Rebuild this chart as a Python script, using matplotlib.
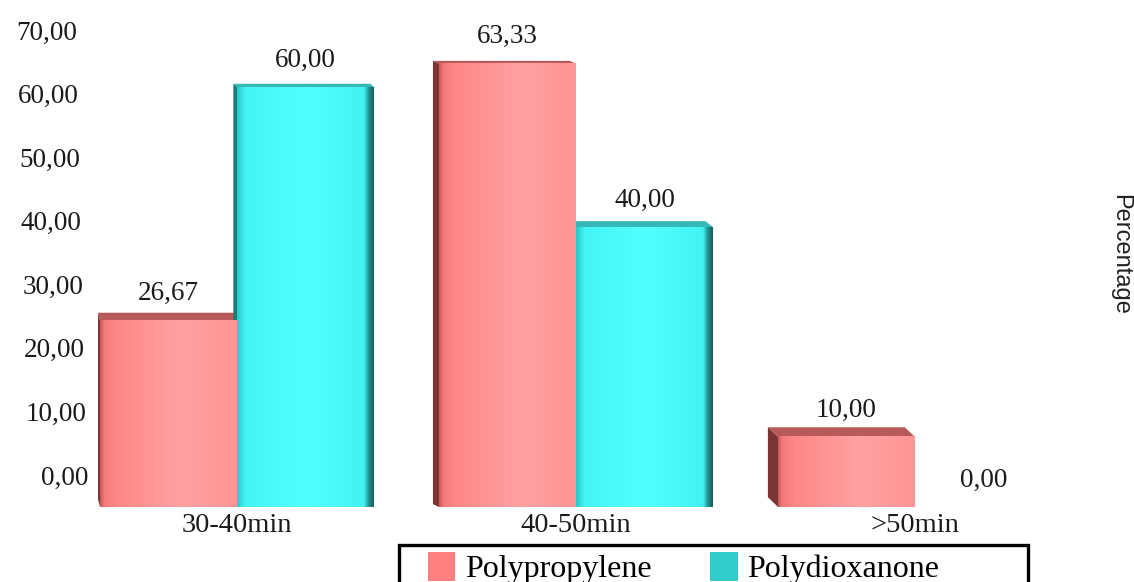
import numpy as np
import matplotlib
matplotlib.use("Agg")
import matplotlib.pyplot as plt
from matplotlib.colors import LinearSegmentedColormap
from matplotlib.patches import Patch, Polygon, Rectangle
from matplotlib.transforms import ScaledTranslation

categories = ["30-40min", "40-50min", ">50min"]
polypropylene = [26.67, 63.33, 10.00]
polydioxanone = [60.00, 40.00, 0.00]
series_names = ["Polypropylene", "Polydioxanone"]
y_ticks = [0, 10, 20, 30, 40, 50, 60, 70]

SERIF = ["Liberation Serif", "DejaVu Serif"]
SANS = ["Liberation Sans", "DejaVu Sans"]

def fmt(v):
    return f"{v:.2f}".replace(".", ",")

fig = plt.figure(figsize=(11.34, 5.82), dpi=100)

# bars live on this axes, nothing else of it is shown
ax = fig.add_axes([67.5 / 1134, 75 / 582, 1017 / 1134, 490 / 582])
ax.set_xlim(-0.5, 2.5)
ax.set_ylim(0, 70)
for s in ax.spines.values():
    s.set_visible(False)
ax.set_yticks([])

x = np.arange(len(categories))
w = 0.404
bars_pp = ax.bar(x - w / 2, polypropylene, w, color="none", zorder=3)
bars_pd = ax.bar(x + w / 2, polydioxanone, w, color="none", zorder=3)

pink_cmap = LinearSegmentedColormap.from_list(
    "pink_face", [(0, "#C85858"), (0.03, "#F47A7A"), (0.12, "#FF8787"),
                  (0.6, "#FFA2A2"), (1, "#FF9494")])
cyan_cmap = LinearSegmentedColormap.from_list(
    "cyan_face", [(0, "#2BC8C8"), (0.06, "#44F4F4"), (0.5, "#52FFFF"),
                  (0.93, "#42F2F2"), (0.965, "#1F9090"), (1, "#166060")])
grad = np.linspace(0, 1, 256).reshape(1, -1)

def px_to_data(dx, dy):
    inv = ax.transData.inverted()
    a = inv.transform((0, 0))
    b = inv.transform((dx, dy))
    return b - a

def draw_bar(b, cmap, top_col, side_col):
    x0, wb, h = b.get_x(), b.get_width(), b.get_height()
    if h <= 0:
        return
    # top face gets deeper the lower the bar is, and leans left further right
    depth = 0.13 * (85 - h)
    cx_px = ax.transData.transform((x0 + wb / 2, 0))[0]
    ddx, ddy = px_to_data(-0.012 * cx_px, depth)
    top = Polygon([(x0, h), (x0 + wb, h), (x0 + wb + ddx, h + ddy), (x0 + ddx, h + ddy)],
                  closed=True, facecolor=top_col, edgecolor="none", zorder=2)
    ax.add_patch(top)
    side = Polygon([(x0, 0), (x0, h), (x0 + ddx, h + ddy), (x0 + ddx, ddy)],
                   closed=True, facecolor=side_col, edgecolor="none", zorder=2)
    ax.add_patch(side)
    ax.imshow(grad, cmap=cmap, extent=(x0, x0 + wb, 0, h), aspect="auto",
              interpolation="bicubic", zorder=3)

for b in bars_pp:
    draw_bar(b, pink_cmap, "#B85A5A", "#7A3434")
for b in bars_pd:
    draw_bar(b, cyan_cmap, "#36B8B8", "#1E7878")

ax.set_xlim(-0.5, 2.5)
ax.set_ylim(0, 70)

for bars, vals in [(bars_pp, polypropylene), (bars_pd, polydioxanone)]:
    for b, v in zip(bars, vals):
        ax.annotate(fmt(v), (b.get_x() + b.get_width() / 2, v), xytext=(0, 19.5),
                    textcoords="offset points", ha="center", va="center",
                    fontsize=19.5, family=SERIF, color="#1a1a1a", zorder=5)

ax.set_xticks(x)
ax.set_xticklabels(categories, fontsize=20.5, family=SERIF, color="#1a1a1a")
ax.tick_params(axis="x", length=0, pad=4)

ax.yaxis.set_label_position("right")
ax.set_ylabel("Percentage", rotation=270, fontsize=17, family=SANS,
              color="#222222", ha="center", va="center")
ax.yaxis.set_label_coords(1.035, 0.516)

# value scale drawn on its own thin axes
ax_lab = fig.add_axes([90 / 1134, 107 / 582, 0.001, 445 / 582])
ax_lab.set_ylim(0, 70)
ax_lab.set_yticks(y_ticks)
ax_lab.set_yticklabels([fmt(v) for v in y_ticks], fontsize=19.5, family=SERIF, color="#1a1a1a")
ax_lab.tick_params(axis="y", length=0, pad=0)
ax_lab.set_xticks([])
for s in ax_lab.spines.values():
    s.set_visible(False)
ax_lab.patch.set_visible(False)
for t, v in zip(ax_lab.get_yticklabels(), y_ticks):
    shift = (-2 - 11 * v / 70) / 100
    t.set_transform(t.get_transform() + ScaledTranslation(shift, 0, fig.dpi_scale_trans))

handles = [Patch(facecolor="#FF8080", edgecolor="none"),
           Patch(facecolor="#33CCCC", edgecolor="none")]
fig.legend(handles, series_names, loc="upper left",
           bbox_to_anchor=(428 / 1134, 1 - 552 / 582), frameon=False, ncol=2,
           borderpad=0, borderaxespad=0, handlelength=0.85, handleheight=1.0,
           handletextpad=0.3, columnspacing=1.85,
           prop={"family": SERIF, "size": 23})
fig.patches.append(Rectangle((399 / 1134, -0.05), 629 / 1134, 0.05 + 1 - 545 / 582,
                             transform=fig.transFigure, facecolor="none",
                             edgecolor="black", linewidth=2.4))

fig.savefig("out.png", dpi=100, facecolor="white")
